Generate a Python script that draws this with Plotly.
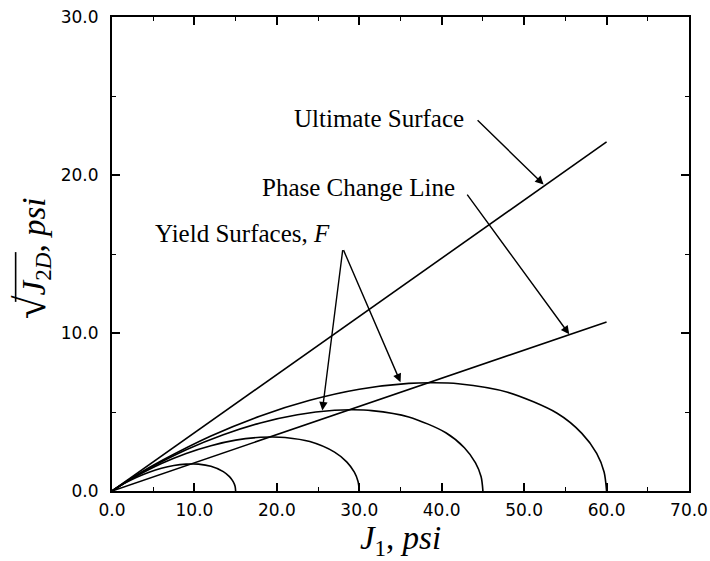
import plotly.graph_objects as go

# Limit lines (J1 from 0 to 60 psi)
line_j1 = [0.0, 60.0]
ultimate_sqrtj2d = [0.0, 22.1]
phase_sqrtj2d = [0.0, 10.7]

# Yield surfaces F for four hardening states (J1 in psi, sqrt(J2D) in psi)
f15_j1 = [0, 0.75, 1.5, 3, 4.5, 6, 7.5, 9, 9.75, 10.5, 12, 13.5, 14.25, 14.7, 14.93, 15]
f15_s = [0, 0.25, 0.48, 0.87, 1.19, 1.44, 1.61, 1.70, 1.71, 1.70, 1.56, 1.23, 0.91, 0.59, 0.30, 0]

f30_j1 = [0, 1.5, 3, 6, 9, 12, 15, 18, 19.5, 21, 24, 27, 28.5, 29.4, 29.85, 30]
f30_s = [0, 0.50, 0.95, 1.74, 2.38, 2.87, 3.22, 3.40, 3.42, 3.39, 3.13, 2.46, 1.83, 1.19, 0.60, 0]

f45_j1 = [0, 2.25, 4.5, 9, 13.5, 18, 22.5, 27, 29.25, 31.5, 36, 40.5, 42.75, 44.1, 44.78, 45]
f45_s = [0, 0.76, 1.43, 2.61, 3.56, 4.31, 4.83, 5.11, 5.14, 5.09, 4.69, 3.69, 2.74, 1.78, 0.90, 0]

f60_j1 = [0, 3, 6, 12, 18, 24, 30, 36, 39, 42, 48, 54, 57, 58.8, 59.7, 60]
f60_s = [0, 1.01, 1.91, 3.48, 4.75, 5.74, 6.44, 6.81, 6.85, 6.79, 6.25, 4.92, 3.65, 2.38, 1.20, 0]

x_ticks = [0, 10, 20, 30, 40, 50, 60, 70]
y_ticks = [0, 10, 20, 30]

SERIF = "Liberation Serif"
SANS = "DejaVu Sans"
INK = "black"

fig = go.Figure()

line_style = dict(color=INK, width=1.6)
fig.add_trace(go.Scatter(x=line_j1, y=ultimate_sqrtj2d, mode="lines", line=line_style))
fig.add_trace(go.Scatter(x=line_j1, y=phase_sqrtj2d, mode="lines", line=line_style))
for xs, ys in [(f15_j1, f15_s), (f30_j1, f30_s), (f45_j1, f45_s), (f60_j1, f60_s)]:
    fig.add_trace(go.Scatter(x=xs, y=ys, mode="lines",
                             line=dict(color=INK, width=1.6, shape="spline", smoothing=0.8)))

label_font = dict(family=SERIF, size=25, color=INK)
arrow_common = dict(xref="x", yref="y", axref="x", ayref="y", showarrow=True,
                    arrowhead=2, arrowsize=1.2, arrowwidth=1.4, arrowcolor=INK, text="")

# Annotation labels
fig.add_annotation(x=43.0, y=23.6, text="Ultimate Surface", showarrow=False,
                   xanchor="right", yanchor="middle", font=label_font)
fig.add_annotation(x=41.9, y=19.2, text="Phase Change Line", showarrow=False,
                   xanchor="right", yanchor="middle", font=label_font)
fig.add_annotation(x=4.97, y=16.3, text="Yield Surfaces, <i>F</i>", showarrow=False,
                   xanchor="left", yanchor="middle", font=label_font)

# Leader arrows
fig.add_annotation(x=52.36, y=19.40, ax=44.17, ay=23.55, **arrow_common)
fig.add_annotation(x=55.47, y=9.92, ax=42.96, ay=18.85, **arrow_common)
fig.add_annotation(x=25.52, y=5.10, ax=28.01, ay=15.34, **arrow_common)
fig.add_annotation(x=35.0, y=6.89, ax=28.01, ay=15.34, **arrow_common)

# Rotated y-axis title: sqrt(J_2D), psi
fig.add_annotation(xref="paper", yref="paper", x=-0.139, y=0.491,
                   xanchor="center", yanchor="middle", textangle=-90, showarrow=False,
                   text="<span style='font-size:43px'>√</span><i>J</i><sub>2<i>D</i></sub>, <i>psi</i>",
                   font=dict(family=SERIF, size=33, color=INK))

axis_common = dict(
    showline=True, linecolor=INK, linewidth=2, mirror="ticks",
    ticks="inside", ticklen=8, tickwidth=1.5, tickcolor=INK,
    showgrid=False, zeroline=False, automargin=False,
    tickformat=".1f",
    tickfont=dict(family=SANS, size=17, color=INK),
    minor=dict(dtick=5, ticks="inside", ticklen=4, tickwidth=1.2, tickcolor=INK, showgrid=False),
)

fig.update_xaxes(range=[0, 70], tickvals=x_ticks, ticklabelstandoff=3,
                 title=dict(text="<i>J</i><sub>1</sub>, <i>psi</i>",
                            font=dict(family=SERIF, size=33, color=INK), standoff=11),
                 **axis_common)
fig.update_yaxes(range=[0, 30], tickvals=y_ticks, ticklabelstandoff=8, **axis_common)

# Vinculum of the square-root sign on the rotated y-axis title
fig.add_shape(type="line", xref="paper", yref="paper",
              x0=-0.167, x1=-0.167, y0=0.399, y1=0.504,
              line=dict(color=INK, width=1.6))

fig.update_layout(
    width=710, height=561,
    margin=dict(l=112, r=21, t=17, b=70),
    paper_bgcolor="white", plot_bgcolor="white",
    showlegend=False,
)

fig.write_html("out.html")
